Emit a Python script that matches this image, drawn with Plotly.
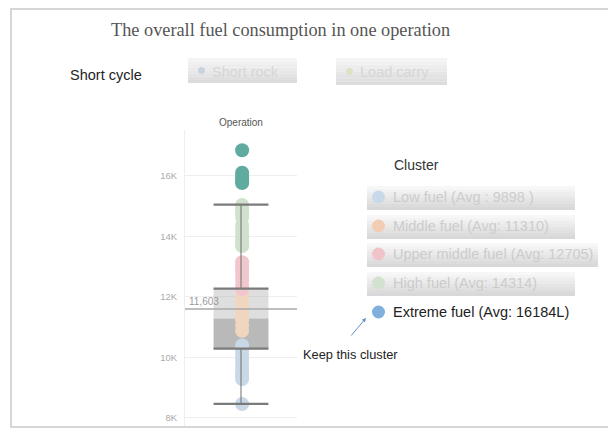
import plotly.graph_objects as go

# point values per cluster (litres)
low_fuel = [10400, 10250, 10100, 9950, 9800, 9650, 9500, 9380, 9290, 8460]
middle_fuel = [12040, 11850, 11650, 11450, 11250, 11050, 10880]
upper_middle_fuel = [13150, 13000, 12850, 12700, 12560, 12400, 12250]
high_fuel = [15040, 14900, 14780, 14640, 14380, 14220, 14080, 13940, 13800, 13680]
extreme_fuel = [16850, 16110, 16000, 15900, 15820, 15770]

# box plot stats
whisker_low = 8466
q1 = 10290
median = 11285
q3 = 12275
whisker_high = 15050
ref_value = 11603

tick_vals = [8000, 10000, 12000, 14000, 16000]
tick_text = ['8K', '10K', '12K', '14K', '16K']

cluster_labels = ['Low fuel (Avg : 9898 )', 'Middle fuel (Avg: 11310)',
                  'Upper middle fuel (Avg: 12705)', 'High fuel (Avg: 14314)',
                  'Extreme fuel (Avg: 16184L)']
legend_dot_colors = ['#c8d9ea', '#f3cdb3', '#f0c3c8', '#d2e2ce', '#80b1de']
point_colors = ['#c9d8e7', '#f1d6bf', '#f1c7cd', '#d0e1cd', '#5fab9f']

# the page body has an 8px margin, so the figure is drawn 8px smaller
OFF = 8
W, H = 616 - OFF, 428 - OFF
# plot area in screen pixels (the rest is placed relative to it)
L, R, T, B = 185, 297, 130, 426


def px(x):
    return (x - L) / (R - L)


def py(y):
    return (B - y) / (B - T)


fig = go.Figure()

# points, one column per cluster
for vals, col in zip([low_fuel, middle_fuel, upper_middle_fuel, high_fuel, extreme_fuel], point_colors):
    fig.add_trace(go.Scatter(
        x=[0.02] * len(vals), y=vals, mode='markers',
        marker=dict(size=14, color=col, line_width=0),
        hoverinfo='skip'
    ))

# box halves
fig.add_trace(go.Bar(x=[0], y=[q3 - median], base=[median], width=0.98,
                     marker=dict(color='rgba(176,176,176,0.42)', line_width=0), hoverinfo='skip'))
fig.add_trace(go.Bar(x=[0], y=[median - q1], base=[q1], width=0.98,
                     marker=dict(color='rgba(128,128,128,0.55)', line_width=0), hoverinfo='skip'))

# whiskers
fig.add_trace(go.Scatter(
    x=[0, 0, None, 0, 0], y=[q3, whisker_high, None, q1, whisker_low],
    mode='lines', line=dict(color='#6f6f6f', width=1), hoverinfo='skip'
))
# caps and box edges
caps_x, caps_y = [], []
for v in [whisker_high, q3, q1, whisker_low]:
    caps_x += [-0.49, 0.49, None]
    caps_y += [v, v, None]
fig.add_trace(go.Scatter(x=caps_x, y=caps_y, mode='lines',
                         line=dict(color='#7a7a7a', width=2.2), hoverinfo='skip'))

# reference line
fig.add_trace(go.Scatter(x=[-1, 1], y=[ref_value, ref_value], mode='lines',
                         line=dict(color='#a9a9a9', width=1.5), hoverinfo='skip'))
fig.add_annotation(x=-0.97, y=ref_value, xref='x', yref='y', text=f'{ref_value:,}',
                   showarrow=False, xanchor='left', yanchor='bottom', yshift=0,
                   font=dict(family='Liberation Sans', size=10, color='#9a9a9a'))


def gradient_rect(x0, x1, y0, y1, top, bottom, n=8):
    # fake a vertical gradient with thin strips
    h = (y1 - y0) / n
    for i in range(n):
        t = i / (n - 1)
        c = tuple(int(round(top[k] + (bottom[k] - top[k]) * t)) for k in range(3))
        fig.add_shape(type='rect', xref='paper', yref='paper',
                      x0=px(x0), x1=px(x1), y0=py(y0 + h * (i + 1)), y1=py(y0 + h * i),
                      fillcolor='rgb(%d,%d,%d)' % c, line_width=0, layer='below')


def text(x, y, s, size, color, family='Liberation Sans', anchor='left'):
    fig.add_annotation(x=px(x), y=py(y), xref='paper', yref='paper', text=s,
                       showarrow=False, xanchor=anchor, yanchor='middle',
                       font=dict(family=family, size=size, color=color))


# outer frame
fig.add_shape(type='rect', xref='paper', yref='paper', x0=px(11), x1=px(614), y0=py(427), y1=py(9),
              line=dict(color='#d6d6d6', width=2))

# title and filter row
text(280, 30, 'The overall fuel consumption in one operation', 18.3, '#555555',
     family='Liberation Serif', anchor='center')
text(68, 75, 'Short cycle', 14.5, '#222222')
buttons = [('Short rock', 188, 297, 58, 83, '#c9d3e0'), ('Load carry', 336, 447, 58, 85, '#e0e0c6')]
for label, x0, x1, y0, y1, dot in buttons:
    gradient_rect(x0, x1, y0, y1, (244, 244, 244), (220, 220, 220))
    cy = (y0 + y1) / 2
    fig.add_shape(type='circle', xref='paper', yref='paper', x0=px(x0 + 10), x1=px(x0 + 17),
                  y0=py(cy + 3.5), y1=py(cy - 3.5), fillcolor=dot, line_width=0)
    text(x0 + 22, cy + 1, label, 14.5, '#d6d6d6')

text(241, 123, 'Operation', 10, '#555555', anchor='center')

# cluster legend
text(392, 165, 'Cluster', 14, '#333333')
row_y = [197, 226, 254, 283, 312]
row_right = [575, 575, 598, 575]
for i, (label, dot) in enumerate(zip(cluster_labels, legend_dot_colors)):
    cy = row_y[i]
    extreme = i == len(cluster_labels) - 1
    if not extreme:
        gradient_rect(367, row_right[i], cy - 11, cy + 13, (247, 247, 247), (216, 216, 216))
    fig.add_shape(type='circle', xref='paper', yref='paper', x0=px(372), x1=px(385),
                  y0=py(cy + 6.5), y1=py(cy - 6.5), fillcolor=dot, line_width=0)
    text(391, cy, label, 14.5, '#222222' if extreme else '#cccccc')

# callout
fig.add_annotation(x=px(366), y=py(318), ax=-16, ay=19, xref='paper', yref='paper',
                   text='', showarrow=True,
                   arrowhead=2, arrowsize=0.8, arrowwidth=1, arrowcolor='#5b8fc9')
text(301, 354, 'Keep this cluster', 12.8, '#222222')

fig.update_layout(
    width=W, height=H,
    margin=dict(l=L - OFF, r=616 - R, t=T - OFF, b=428 - B),
    paper_bgcolor='white', plot_bgcolor='white',
    showlegend=False, barmode='overlay',
    xaxis=dict(range=[-1, 1], visible=False, fixedrange=True),
    yaxis=dict(range=[7735, 17520], tickvals=tick_vals, ticktext=tick_text,
               showgrid=True, gridcolor='#eeeeee', gridwidth=1, zeroline=False,
               showline=True, linecolor='#eeeeee', ticks='', ticklabelstandoff=5,
               tickfont=dict(family='Liberation Sans', size=9.5, color='#aaaaaa')),
)

fig.write_html('out.html')
